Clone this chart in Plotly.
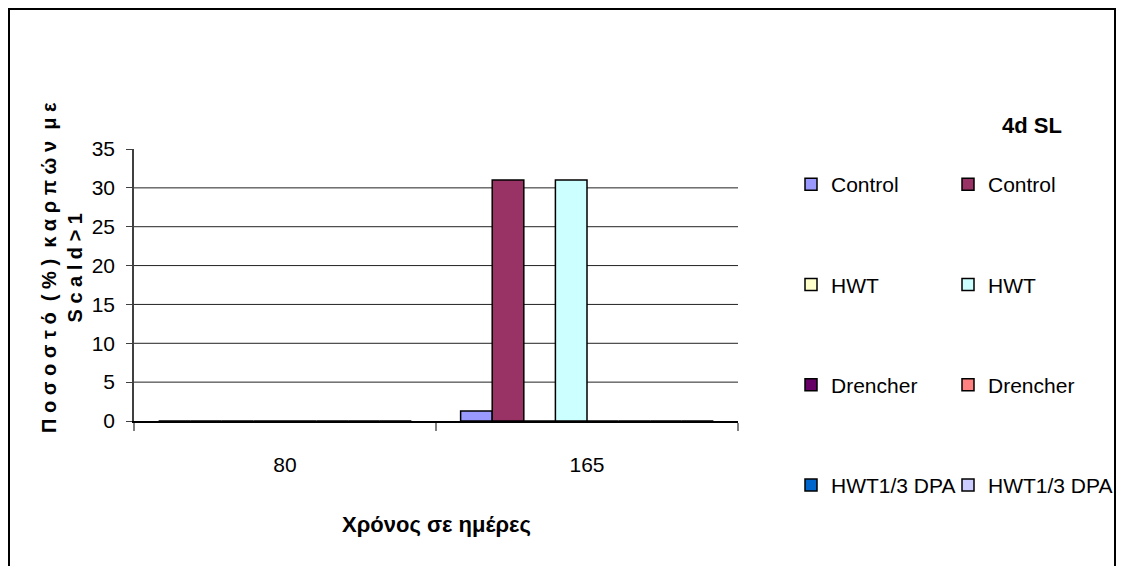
import plotly.graph_objects as go

categories = ["80", "165"]
series_names = ["Control", "Control", "HWT", "HWT", "Drencher", "Drencher", "HWT1/3 DPA", "HWT1/3 DPA"]
series_values = [
    [0, 1.3],
    [0, 31],
    [0, 0],
    [0, 31],
    [0, 0],
    [0, 0],
    [0, 0],
    [0, 0],
]
series_colors = ["#9999FF", "#993366", "#FFFFCC", "#CCFFFF", "#660066", "#FF8080", "#0066CC", "#CCCCFF"]
y_ticks = [0, 5, 10, 15, 20, 25, 30, 35]
grid_vals = [5, 10, 15, 20, 25, 30]

FONT = "Liberation Sans, Arial, sans-serif"

OFF = 8  # default body margin of the html page
W, H = 1124 - 2 * OFF, 574 - 2 * OFF  # keep the page inside the window
L, R, T, B = 134 - OFF, 738 - OFF, 149 - OFF, 421 - OFF  # plot area box in figure px
PW, PH = R - L, B - T

def px_x(p):  # page px -> paper
    return (p - OFF - L) / PW

def px_y(p):
    return (B - (p - OFF)) / PH

fig = go.Figure()
for i, (name, vals, col) in enumerate(zip(series_names, series_values, series_colors)):
    fig.add_trace(go.Bar(
        x=categories, y=vals, name=name,
        marker=dict(color=col, line=dict(color="#000000", width=1.5)),
        legend="legend" if i % 2 == 0 else "legend2",
        legendgroup=f"g{i}",
    ))

shapes = []
for v in grid_vals:
    shapes.append(dict(type="line", xref="paper", yref="y", x0=0, x1=1, y0=v, y1=v,
                       line=dict(color="#222222", width=1), layer="below"))
# chart frame
shapes.append(dict(type="rect", xref="paper", yref="paper",
                   x0=px_x(9), x1=px_x(1115), y0=px_y(600), y1=px_y(9),
                   line=dict(color="#000000", width=2)))

legend_common = dict(
    font=dict(family=FONT, size=21, color="#000000"),
    tracegroupgap=70,
    bgcolor="rgba(0,0,0,0)",
    xanchor="left", yanchor="top",
    maxheight=520,
    itemclick=False, itemdoubleclick=False,
)

fig.update_layout(
    width=W, height=H,
    margin=dict(l=L, r=W - R, t=T, b=H - B, autoexpand=False),
    paper_bgcolor="white", plot_bgcolor="white",
    barmode="group", bargap=0.163, bargroupgap=0,
    font=dict(family=FONT, size=21, color="#000000"),
    showlegend=True,
    legend=dict(x=px_x(791), y=px_y(164), **legend_common),
    legend2=dict(x=px_x(948), y=px_y(164), **legend_common),
    xaxis=dict(
        type="category", showgrid=False, showline=True, linecolor="#000000", linewidth=1.5,
        ticks="outside", tickson="boundaries", ticklen=8, tickcolor="#808080", tickwidth=2,
        tickfont=dict(family=FONT, size=21), ticklabelstandoff=24,
    ),
    yaxis=dict(
        range=[0, 35], tickvals=y_ticks, showgrid=False, zeroline=False,
        showline=True, linecolor="#404040", linewidth=1.5,
        ticks="outside", ticklen=6, tickcolor="#404040",
        tickfont=dict(family=FONT, size=21), ticklabelstandoff=7,
    ),
    shapes=shapes,
    annotations=[
        dict(text="<b>Χρόνος σε ημέρες</b>", xref="paper", yref="paper",
             x=px_x(436), y=px_y(524), xanchor="center", yanchor="middle",
             showarrow=False, font=dict(family=FONT, size=22)),
        dict(text="<b>Π ο σ ο σ τ ό  ( % )  κ α ρ π ώ ν  μ ε<br>S c a l d > 1</b>",
             xref="paper", yref="paper", x=px_x(62), y=px_y(268),
             xanchor="center", yanchor="middle", textangle=-90,
             showarrow=False, font=dict(family=FONT, size=20)),
        dict(text="<b>4d SL</b>", xref="paper", yref="paper",
             x=px_x(1032), y=px_y(125), xanchor="center", yanchor="middle",
             showarrow=False, font=dict(family=FONT, size=22)),
    ],
)

fig.write_html("out.html")
